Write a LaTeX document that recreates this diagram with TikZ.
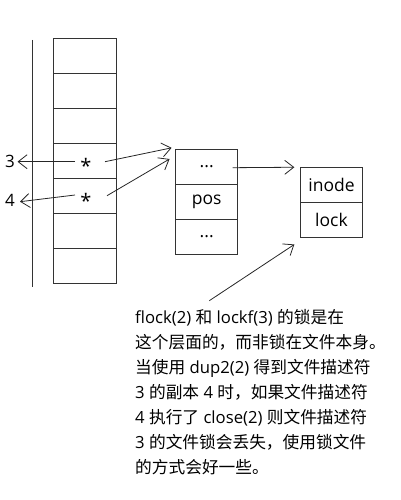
\documentclass[tikz,border=0pt]{standalone}
\usepackage{fontspec}
\setmainfont{Open Sans}
\newfontfamily\cjk{Noto Sans CJK SC}
\usetikzlibrary{arrows.meta,calc}
\begin{document}
\begin{tikzpicture}[x=1pt,y=-1pt,
  cell/.style={draw=black!80,line width=0.9pt,minimum width=63pt,minimum height=35pt,inner sep=0pt,font=\fontsize{17.5}{20}\selectfont},
  mcell/.style={cell,minimum width=62pt},
  lbl/.style={inner sep=0pt,font=\fontsize{17}{18}\selectfont},
  star/.style={inner sep=0pt,font=\fontsize{20}{20}\selectfont},
  arr/.style={draw=black!85,line width=0.8pt,-{Straight Barb[length=9pt,width=14pt,line width=0.8pt]}}]
\useasboundingbox (0,0) rectangle (400,500);
% left column
\foreach \i in {1,...,7}{
  \node[cell] (c\i) at (84.5,{38+17.5+35*(\i-1)}) {};
}
\draw[black!80,line width=0.9pt] (32.3,40) coordinate (vt) -- (32.3,287) coordinate (vb);
\node[star] (s3) at (86,166) {*};
\node[star] (s4) at (86,201) {*};
\node[lbl] (n3) at (10,161) {3};
\node[lbl] (n4) at (10,200) {4};
% middle block
\node[mcell] (m1) at (206.7,166.5) {...};
\node[mcell] (m2) at (206.7,201.5) {pos};
\node[mcell] (m3) at (206.7,236.5) {...};
% right block
\node[mcell] (r1) at (331.5,184.8) {inode};
\node[mcell] (r2) at (331.5,219.8) {lock};
% connectors
\draw[arr] ($(c4.center)+(-9.5,1.2)$) -- ($(n3.center)+(7.5,0.7)$);
\draw[arr] ($(c5.center)+(-9.5,-0.5)$) -- ($(n4.center)+(10,1.7)$);
\draw[arr] ($(c4.center)+(20.5,1.2)$) -- ($(m1.north west)+(-3.7,-0.7)$);
\draw[arr] ($(c5.center)+(22.5,0.2)$) -- ($(m1.west)+(-5.7,-7.5)$);
\draw[arr] ($(m1.center)+(26,1.2)$) -- ($(r1.north west)+(-5.7,0.4)$);
% note
\node[anchor=north west,align=left,inner sep=0pt,font=\fontsize{16.7}{25}\selectfont] (note) at (135,309)
{flock(2) {\cjk 和} lockf(3) {\cjk 的锁是在}\\
{\cjk 这个层面的，而非锁在文件本身。}\\
{\cjk 当使用} dup2(2) {\cjk 得到文件描述符}\\
3 {\cjk 的副本} 4 {\cjk 时，如果文件描述符}\\
4 {\cjk 执行了} close(2) {\cjk 则文件描述符}\\
3 {\cjk 的文件锁会丢失，使用锁文件}\\
{\cjk 的方式会好一些。}};
\draw[arr] ($(note.north west)+(74.3,-8.3)$) -- ($(r2.south west)+(-5.7,6.7)$);
\end{tikzpicture}
\end{document}
